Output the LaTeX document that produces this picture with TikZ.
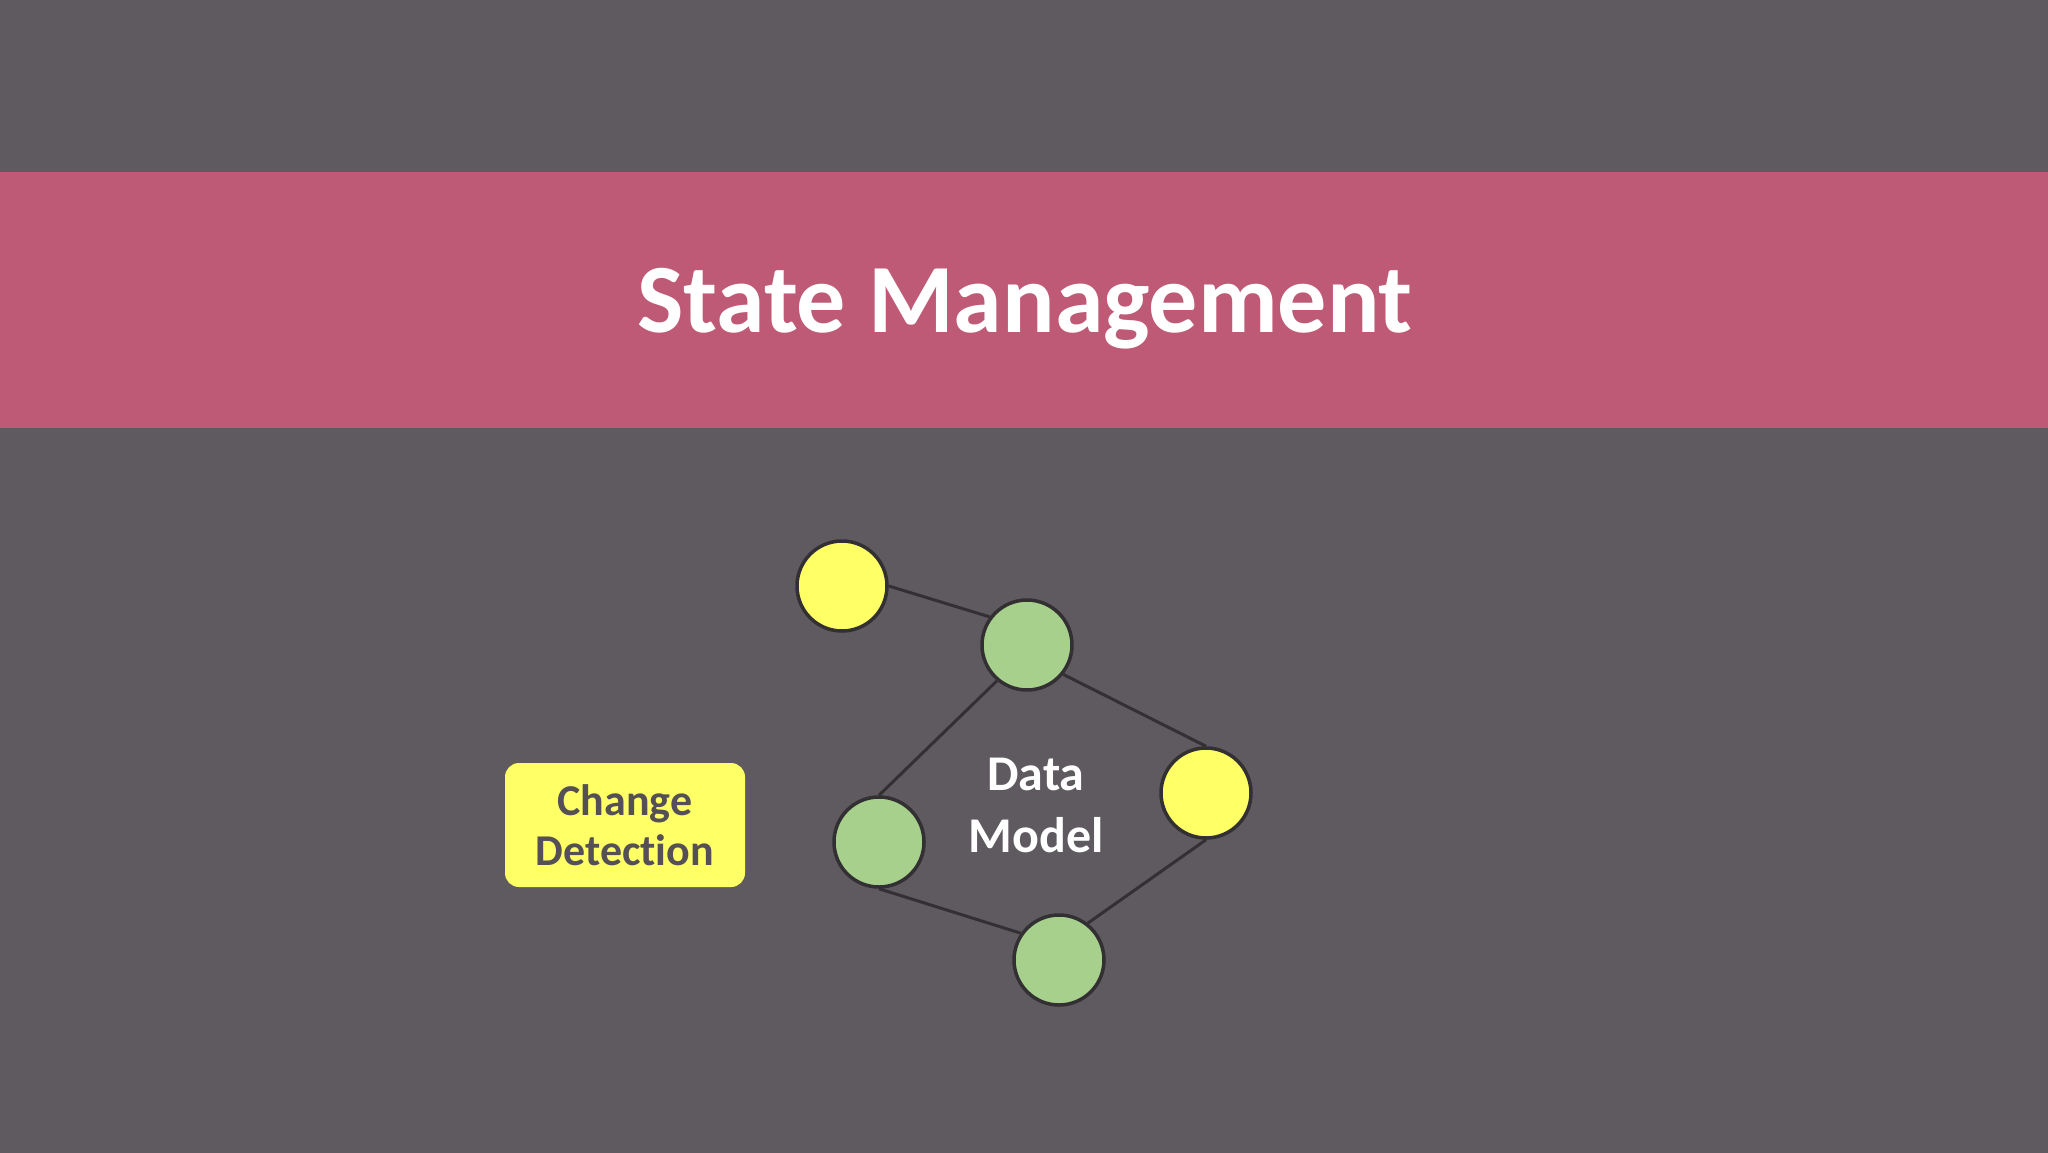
\documentclass[tikz,border=0pt]{standalone}
\usepackage{fontspec}
\setmainfont{Carlito}[Ligatures={NoCommon}]
\definecolor{bgc}{HTML}{5F5A5F}
\definecolor{banner}{HTML}{BE5A75}
\definecolor{yel}{HTML}{FFFF66}
\definecolor{grn}{HTML}{A8D08D}
\definecolor{edgec}{HTML}{333033}
\definecolor{boxtext}{HTML}{555055}
\begin{document}
\begin{tikzpicture}[x=1pt,y=-1pt,
  ynode/.style={circle,draw=edgec,line width=3.5pt,fill=yel,minimum size=90pt,inner sep=0pt},
  gnode/.style={circle,draw=edgec,line width=3.5pt,fill=grn,minimum size=90pt,inner sep=0pt},
  link/.style={draw=edgec,line width=3pt},
  cdbox/.style={rectangle,rounded corners=14pt,fill=yel,minimum width=240pt,minimum height=124pt,inner sep=0pt,align=center,text=boxtext,font=\fontsize{44}{50}\selectfont\bfseries}]
\useasboundingbox (0,0) rectangle (2048,1152);
\fill[bgc] (-2,-2) rectangle (2050,1154);
\fill[banner] (-2,172) rectangle (2050,428);
\node[text=white,font=\fontsize{98}{110}\selectfont\bfseries,anchor=base] (title) at (1025,332) {State Management};
\node[ynode] (y1) at (842,586) {};
\node[gnode] (g1) at (1027,645) {};
\node[ynode] (y2) at (1206,793) {};
\node[gnode] (g2) at (879,842) {};
\node[gnode] (g3) at (1059,960) {};
\draw[link] (y1.east) -- (g1.143);
\draw[link] (g1.230) -- (g2.north);
\draw[link] (g1.321) -- (y2.north);
\draw[link] (g2.south) -- (g3.145);
\draw[link] (g3.52) -- (y2.south);
\node[text=white,align=center,font=\fontsize{50}{62}\selectfont\bfseries] (dm) at (1036,805) {Data\\Model};
\node[cdbox] (cd) at (625,825) {Change\\Detection};
\end{tikzpicture}
\end{document}
